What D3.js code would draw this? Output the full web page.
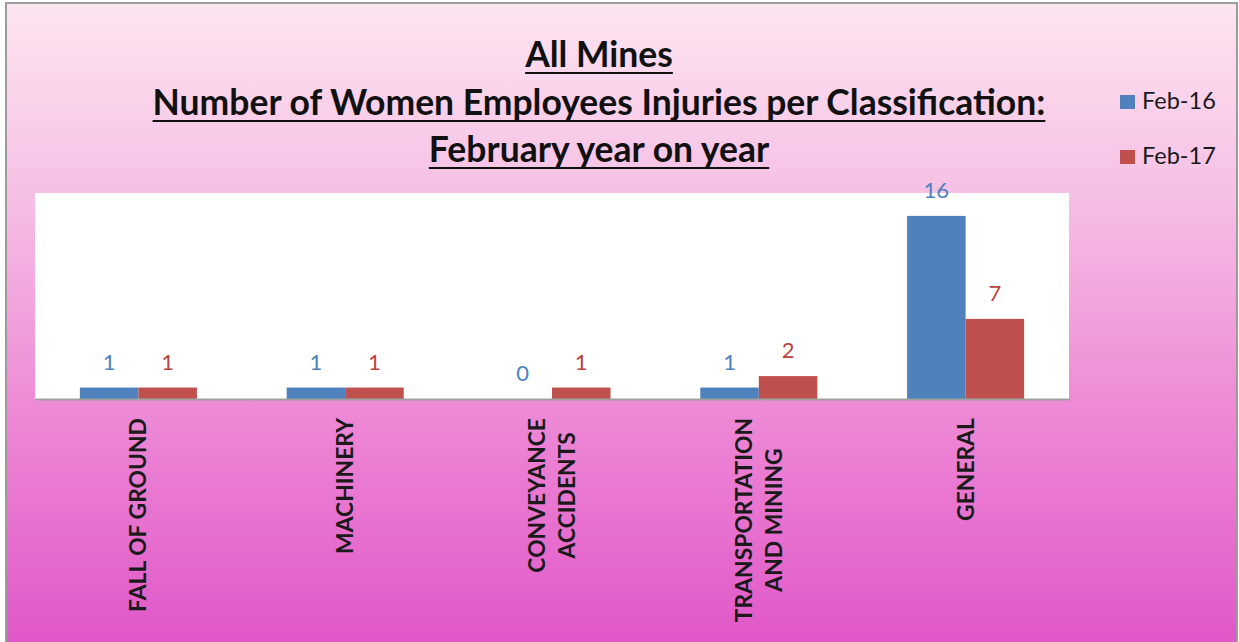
<!DOCTYPE html>
<html>
<head>
<meta charset="utf-8">
<script src="https://cdn.jsdelivr.net/npm/d3@7"></script>
<style>
  html, body { margin: 0; padding: 0; background: #ffffff; }
  svg { display: block; }
  text { font-family: Lato, "Open Sans", sans-serif; }
</style>
</head>
<body>
<svg id="chart" width="1239" height="642"></svg>
<script>
// ---------- data ----------
const categories = [
  ["FALL OF GROUND"],
  ["MACHINERY"],
  ["CONVEYANCE", "ACCIDENTS"],
  ["TRANSPORTATION", "AND MINING"],
  ["GENERAL"]
];
const seriesNames = ["Feb-16", "Feb-17"];
const feb16 = [1, 1, 0, 1, 16];
const feb17 = [1, 1, 1, 2, 7];
const titleLines = [
  "All Mines",
  "Number of Women Employees Injuries per Classification:",
  "February year on year"
];

// ---------- layout ----------
const W = 1239, H = 642;
const plot = { left: 35, right: 1069, top: 193, bottom: 399 };
const colors = ["#4f81bd", "#c0504d"];
const labelColors = ["#4f81bd", "#b9423f"];

const svg = d3.select("#chart");
const defs = svg.append("defs");
const grad = defs.append("linearGradient")
  .attr("id", "bg").attr("x1", 0).attr("y1", 0).attr("x2", 0).attr("y2", 1);
grad.append("stop").attr("offset", "0%").attr("stop-color", "#fde5f1");
grad.append("stop").attr("offset", "30%").attr("stop-color", "#f6bfe4");
grad.append("stop").attr("offset", "62%").attr("stop-color", "#ee8ad6");
grad.append("stop").attr("offset", "100%").attr("stop-color", "#e055c7");

// chart background with border
svg.append("rect")
  .attr("x", 6).attr("y", 3).attr("width", W - 8).attr("height", H + 10)
  .attr("fill", "url(#bg)")
  .attr("stroke", "#9c9c9c").attr("stroke-width", 2);

// plot area
svg.append("rect")
  .attr("x", plot.left).attr("y", plot.top)
  .attr("width", plot.right - plot.left).attr("height", plot.bottom - plot.top)
  .attr("fill", "#ffffff");

// scales
const keys = categories.map(c => c.join(" "));
const x0 = d3.scaleBand().domain(keys)
  .range([plot.left, plot.right])
  .paddingInner(0.434).paddingOuter(0.217);
const x1 = d3.scaleBand().domain(seriesNames).range([0, x0.bandwidth()]).padding(0);
const y = d3.scaleLinear().domain([0, 18]).range([plot.bottom, plot.top]);

const rows = keys.map((k, i) => ({ key: k, vals: [feb16[i], feb17[i]] }));

// bars
const groups = svg.append("g").selectAll("g").data(rows).join("g")
  .attr("transform", d => `translate(${x0(d.key)},0)`);
groups.selectAll("rect").data(d => d.vals.map((v, j) => ({ v, j })))
  .join("rect")
  .attr("x", d => x1(seriesNames[d.j]))
  .attr("width", x1.bandwidth())
  .attr("y", d => y(d.v))
  .attr("height", d => y(0) - y(d.v))
  .attr("fill", d => colors[d.j]);

// data labels
groups.selectAll("text").data(d => d.vals.map((v, j) => ({ v, j })))
  .join("text")
  .attr("x", d => x1(seriesNames[d.j]) + x1.bandwidth() / 2)
  .attr("y", d => y(d.v) - 18)
  .attr("text-anchor", "middle")
  .attr("font-size", 22)
  .attr("fill", d => labelColors[d.j])
  .text(d => d.v);

// x axis line
const xAxis = d3.axisBottom(x0).tickSize(0).tickFormat("");
const axG = svg.append("g").attr("transform", `translate(0,${plot.bottom})`).call(xAxis);
axG.select(".domain").attr("stroke", "#a0a0a0").attr("stroke-width", 2);

// category labels (rotated, top aligned at labelTop)
const labelTop = 418;
const lineGap = 30;
// fit font size so "FALL OF GROUND" spans about 194px
const probe = svg.append("text").attr("font-weight", 700).attr("font-size", 20).text(categories[0][0]);
const catSize = 20 * 194 / probe.node().getComputedTextLength();
probe.remove();

rows.forEach((r, i) => {
  const cx = x0(r.key) + x0.bandwidth() / 2;
  const g = svg.append("g").attr("transform", `translate(${cx},${labelTop}) rotate(-90)`);
  const lines = categories[i];
  const texts = lines.map((t, li) => g.append("text")
    .attr("font-weight", 700).attr("font-size", catSize)
    .attr("fill", "#1a1a1a")
    .attr("dy", "0.35em")
    .attr("y", (li - (lines.length - 1) / 2) * lineGap)
    .text(t));
  const maxW = d3.max(texts, t => t.node().getComputedTextLength());
  texts.forEach(t => t.attr("text-anchor", "middle").attr("x", -maxW / 2));
});

// title: one font size, fitted so the longest line spans ~893px
const titleBase = [67, 115, 162];
const titleCx = 599;
const tprobe = svg.append("text").attr("font-weight", 700).attr("font-size", 30).text(titleLines[1]);
const titleSize = 30 * 893 / tprobe.node().getComputedTextLength();
tprobe.remove();
titleLines.forEach((t, i) => {
  const el = svg.append("text")
    .attr("x", titleCx).attr("y", titleBase[i])
    .attr("text-anchor", "middle")
    .attr("font-weight", 700).attr("font-size", titleSize)
    .attr("fill", "#111")
    .text(t);
  const w = el.node().getComputedTextLength();
  svg.append("line")
    .attr("x1", titleCx - w / 2).attr("x2", titleCx + w / 2)
    .attr("y1", titleBase[i] + 6).attr("y2", titleBase[i] + 6)
    .attr("stroke", "#111").attr("stroke-width", 2);
});

// legend
const legX = 1120, legY = [95, 150];
seriesNames.forEach((s, i) => {
  svg.append("rect").attr("x", legX).attr("y", legY[i])
    .attr("width", 15).attr("height", 14).attr("fill", colors[i]);
  svg.append("text").attr("x", legX + 22).attr("y", legY[i] + 14)
    .attr("font-size", 23.5).attr("fill", "#1a1a1a").text(s);
});
</script>
</body>
</html>
